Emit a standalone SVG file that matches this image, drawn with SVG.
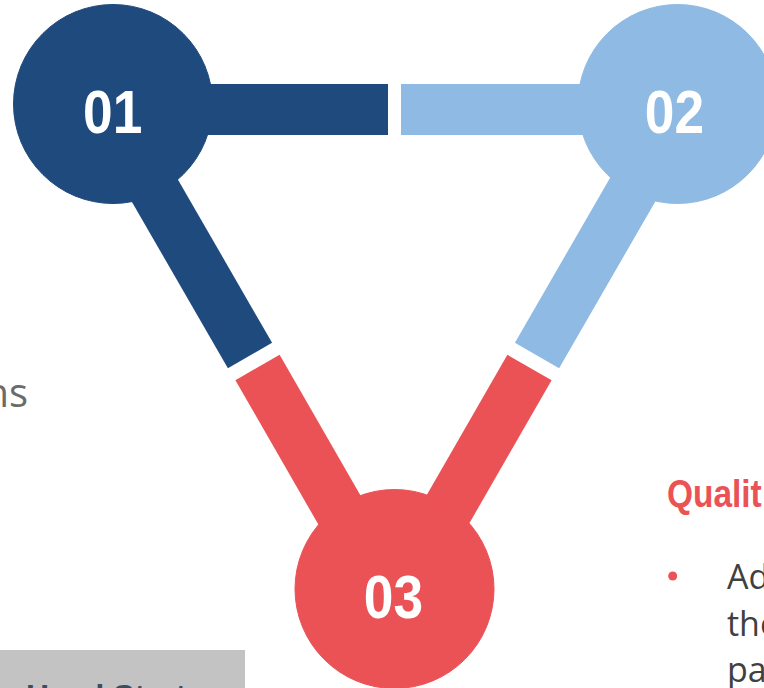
<svg xmlns="http://www.w3.org/2000/svg" width="764" height="688" viewBox="0 0 764 688">
<style>
.bar{stroke-width:51;stroke-linecap:butt;fill:none}
.dark{fill:#1F4A7D;stroke:#1F4A7D}
.light{fill:#8FBAE3;stroke:#8FBAE3}
.red{fill:#EB5255;stroke:#EB5255}
.num{font-family:"Liberation Sans",Arial,sans-serif;font-weight:bold;font-size:62px;fill:#FFFFFF;text-anchor:middle}
.body{font-family:"Open Sans","Noto Sans",sans-serif;font-size:34px;fill:#404040}
</style>
<rect width="764" height="688" fill="#FFFFFF"/>
<g id="connectors">
<line class="bar dark" x1="108" y1="109.5" x2="388" y2="109.5"/>
<line class="bar light" x1="401" y1="109.5" x2="679" y2="109.5"/>
<line class="bar dark" x1="108" y1="109.5" x2="250" y2="355.5"/>
<line class="bar red" x1="257.5" y1="367.5" x2="393.5" y2="604"/>
<line class="bar light" x1="679" y1="109.5" x2="537" y2="355.5"/>
<line class="bar red" x1="529.5" y1="367.5" x2="393.5" y2="604"/>
</g>
<g id="node-01">
<circle class="dark" cx="113" cy="104" r="99.5"/>
<text class="num" transform="translate(112.7,133) scale(0.86,1)">01</text>
</g>
<g id="node-02">
<circle class="light" cx="677.5" cy="104" r="99.5"/>
<text class="num" transform="translate(674.5,133) scale(0.86,1)">02</text>
</g>
<g id="node-03">
<circle class="red" cx="394.5" cy="589" r="99.5"/>
<text class="num" transform="translate(393.5,618) scale(0.86,1)">03</text>
</g>
<g id="left-text">
<text x="28" y="407" text-anchor="end" font-family="Open Sans, Noto Sans, sans-serif" font-size="40" fill="#6B6B6B">ns</text>
</g>
<g id="head-start">
<rect x="0" y="650" width="245" height="38" fill="#C3C3C3"/>
<text x="26" y="707" font-family="Liberation Sans, Arial, sans-serif" font-weight="bold" font-size="32" fill="#3F4B5E">Head Start</text>
</g>
<g id="quality">
<text transform="translate(667,507) scale(0.88,1)" font-family="Liberation Sans, Arial, sans-serif" font-weight="bold" font-size="38" fill="#EB5255">Qualit</text>
<circle cx="672.7" cy="576" r="4.5" fill="#EB5255"/>
<text class="body" x="727" y="589">Ad</text>
<text class="body" x="727" y="636">the</text>
<text class="body" x="727" y="682">pa</text>
</g>
</svg>
